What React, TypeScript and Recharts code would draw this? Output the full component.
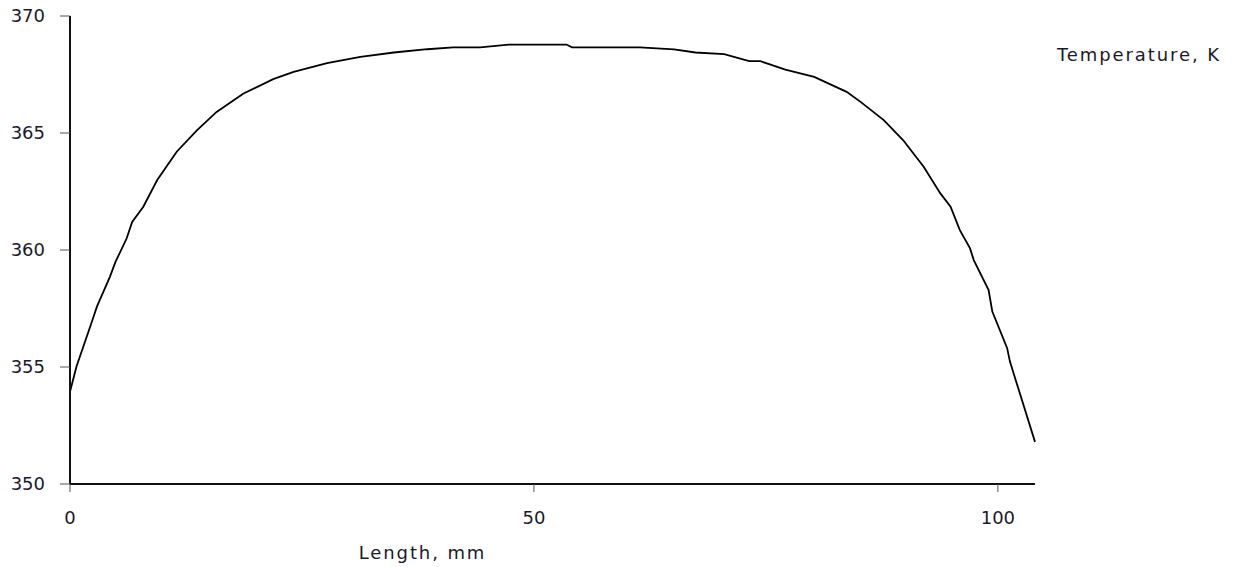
import { LineChart, Line, XAxis, YAxis } from 'recharts'

// Length along the sample, mm
const lengthMm = [
  0, 0.7, 2.3, 2.9, 4.3, 4.9, 6.1, 6.7, 7.9, 9.4, 11.5, 13.7, 15.8, 18.7, 21.9, 24.1,
  27.7, 31.3, 34.9, 38.5, 41.3, 44.2, 47.3, 53.5, 54.1, 61.4, 65.1, 67.4, 70.5, 73.2,
  74.4, 77.1, 80.2, 83.7, 85.2, 87.7, 89.8, 92.0, 93.8, 94.9, 95.9, 97.0, 97.4, 99.0,
  99.4, 101.0, 101.3, 104,
]

// Temperature, K
const temperatureK = [
  353.94, 355.02, 356.87, 357.58, 358.85, 359.49, 360.49, 361.2, 361.85, 362.99, 364.2,
  365.12, 365.9, 366.69, 367.3, 367.61, 367.99, 368.25, 368.44, 368.58, 368.66, 368.66,
  368.78, 368.78, 368.66, 368.66, 368.57, 368.44, 368.37, 368.07, 368.07, 367.71, 367.4,
  366.76, 366.33, 365.55, 364.69, 363.56, 362.42, 361.85, 360.85, 360.07, 359.57, 358.29,
  357.37, 355.8, 355.23, 351.8,
]

const xTicks = [0, 50, 100]
const yTicks = [350, 355, 360, 365, 370]

const FONT = '"DejaVu Sans", Verdana, sans-serif'
const TEXT = '#1a1a2a'

const data = lengthMm.map((x, i) => ({ x, t: temperatureK[i] }))

export default function App() {
  return (
    <div style={{ position: 'absolute', left: 0, top: 0, width: 1240, height: 567, background: '#fff' }}>
      <LineChart
        width={1240}
        height={567}
        data={data}
        margin={{ top: 16, right: 205, left: 0, bottom: 0 }}
        style={{ fontFamily: FONT }}
      >
        <XAxis
          dataKey="x"
          type="number"
          domain={[0, 104]}
          ticks={xTicks}
          height={83}
          tickSize={8}
          tickMargin={19}
          tick={{ fill: TEXT, fontSize: 18 }}
          axisLine={{ stroke: '#111', strokeWidth: 2 }}
          tickLine={{ stroke: '#555' }}
          label={{
            value: 'Length, mm',
            position: 'insideBottom',
            offset: 8,
            dx: -130,
            fill: TEXT,
            fontSize: 18,
            letterSpacing: 1.9,
          }}
        />
        <YAxis
          type="number"
          domain={[350, 370]}
          ticks={yTicks}
          width={70}
          tickSize={10}
          tickMargin={15}
          tick={{ fill: TEXT, fontSize: 18 }}
          axisLine={{ stroke: '#111', strokeWidth: 2 }}
          tickLine={{ stroke: '#555' }}
        />
        <Line
          type="linear"
          dataKey="t"
          name="Temperature, K"
          stroke="#000"
          strokeWidth={1.8}
          dot={false}
          isAnimationActive={false}
        />
      </LineChart>
      {/* series title, sits to the right of the plot */}
      <span
        style={{
          position: 'absolute',
          left: 1057,
          top: 44,
          fontFamily: FONT,
          fontSize: 18,
          letterSpacing: 1.9,
          color: TEXT,
          whiteSpace: 'nowrap',
        }}
      >
        Temperature, K
      </span>
    </div>
  )
}
